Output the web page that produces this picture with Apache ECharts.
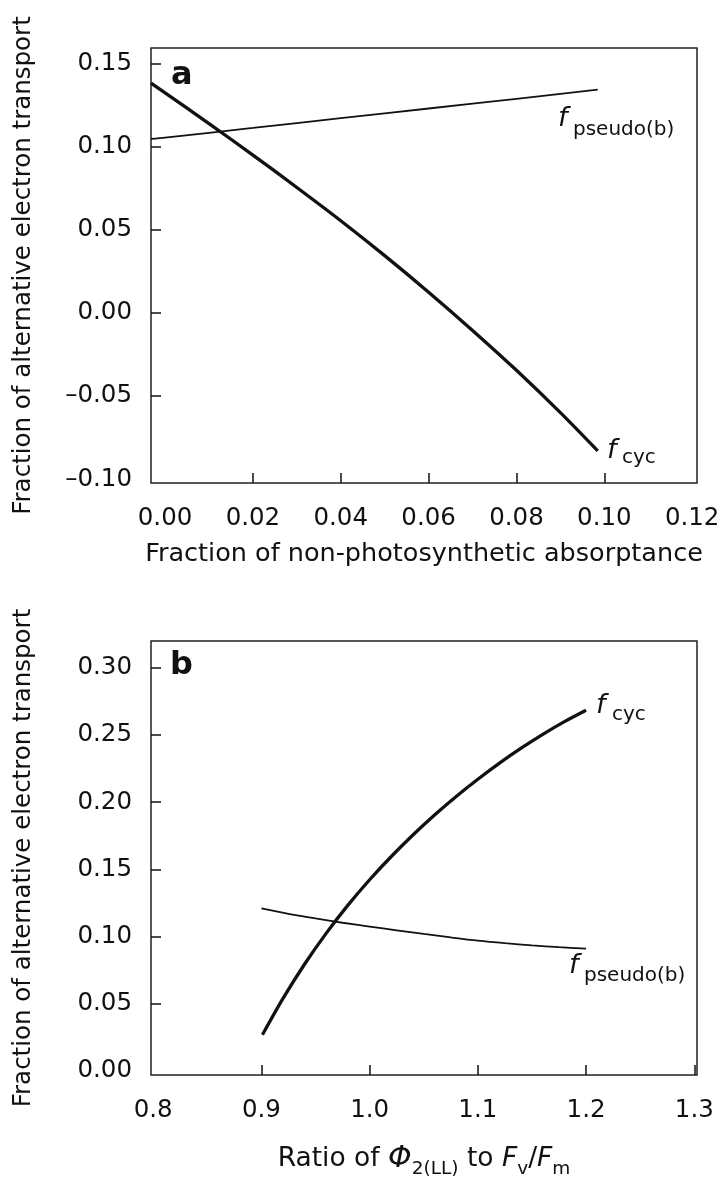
<!DOCTYPE html>
<html>
<head>
<meta charset="utf-8">
<script src="https://cdn.jsdelivr.net/npm/echarts@6/dist/echarts.min.js"></script>
<style>html,body{margin:0;padding:0;background:#fff}#c{width:724px;height:1180px}</style>
</head>
<body>
<div id="c"></div>
<script>
// ---- Panel a data ----
const aCycX = [-0.0032, 0, 0.01, 0.02, 0.03, 0.04, 0.05, 0.06, 0.07, 0.08, 0.09, 0.0985];
const aCycY = [0.1383, 0.1324, 0.1139, 0.0950, 0.0755, 0.0555, 0.0345, 0.0125, -0.0105, -0.0345, -0.0600, -0.0830];
const aPseudoX = [-0.0032, 0, 0.02, 0.04, 0.06, 0.08, 0.0985];
const aPseudoY = [0.1047, 0.1055, 0.1113, 0.1172, 0.1230, 0.1288, 0.1343];
const aXTickLabels = [0, 0.02, 0.04, 0.06, 0.08, 0.10, 0.12];
const aXTicks = [0.02, 0.04, 0.06, 0.08, 0.10];
const aYTickLabels = [-0.10, -0.05, 0, 0.05, 0.10, 0.15];
const aYTicks = [-0.05, 0, 0.05, 0.10, 0.15];

// ---- Panel b data ----
const bCycX = [0.901, 0.92, 0.94, 0.96, 0.98, 1.00, 1.02, 1.04, 1.06, 1.08, 1.10, 1.12, 1.14, 1.16, 1.18, 1.20];
const bCycY = [0.027, 0.0540, 0.0796, 0.1026, 0.1234, 0.1423, 0.1596, 0.1756, 0.1905, 0.2043, 0.2171, 0.2291, 0.2402, 0.2505, 0.2600, 0.2685];
const bPseudoX = [0.90, 0.925, 0.95, 0.975, 1.00, 1.025, 1.05, 1.075, 1.10, 1.125, 1.15, 1.175, 1.20];
const bPseudoY = [0.121, 0.117, 0.1135, 0.1103, 0.1075, 0.1047, 0.102, 0.0994, 0.097, 0.0951, 0.0935, 0.0921, 0.091];
const bXTickLabels = [0.8, 0.9, 1.0, 1.1, 1.2, 1.3];
const bXTicks = [0.9, 1.0, 1.1, 1.2, 1.3];
const bYTickLabels = [0, 0.05, 0.10, 0.15, 0.20, 0.25, 0.30];
const bYTicks = [0.05, 0.10, 0.15, 0.20, 0.25, 0.30];

const FONT = '"DejaVu Sans", "Liberation Sans", Arial, sans-serif';
const INK = '#111';
const pairs = (xs, ys) => xs.map((x, i) => [x, ys[i]]);
const fmt = d => v => (v < 0 ? '\u2013' : '') + Math.abs(v).toFixed(d);

function xAxis(gi, min, max, labels, ticks, dec, name, nameGap, rich) {
  return {
    type: 'value', gridIndex: gi, min: min, max: max,
    axisLine: { show: false, onZero: false },
    splitLine: { show: false },
    axisTick: { show: true, inside: true, length: 10, customValues: ticks, lineStyle: { color: INK, width: 1.5 } },
    axisLabel: { customValues: labels, formatter: fmt(dec), fontSize: 24.5, fontFamily: FONT, color: INK, margin: 23 },
    name: name, nameLocation: 'middle', nameGap: nameGap,
    nameTextStyle: rich ? { rich: rich } : { fontSize: 25.5, fontFamily: FONT, color: INK }
  };
}
function yAxis(gi, min, max, labels, ticks, dec) {
  return {
    type: 'value', gridIndex: gi, min: min, max: max,
    axisLine: { show: false, onZero: false },
    splitLine: { show: false },
    axisTick: { show: true, inside: true, length: 10, customValues: ticks, lineStyle: { color: INK, width: 1.5 } },
    axisLabel: { customValues: labels, formatter: fmt(dec), fontSize: 24.5, fontFamily: FONT, color: INK, margin: 19 },
    name: 'Fraction of alternative electron transport', nameLocation: 'middle', nameGap: 115, nameRotate: 90,
    nameTextStyle: { fontSize: 24.5, fontFamily: FONT, color: INK }
  };
}

const richB = {
  n: { fontSize: 26.5, fontFamily: FONT, color: INK, lineHeight: 40, verticalAlign: 'middle' },
  i: { fontSize: 26.5, fontFamily: FONT, color: INK, fontStyle: 'italic', lineHeight: 40, verticalAlign: 'middle' },
  p: { fontSize: 30, fontFamily: FONT, color: INK, fontStyle: 'italic', lineHeight: 40, verticalAlign: 'middle' },
  s: { fontSize: 18.5, fontFamily: FONT, color: INK, lineHeight: 20, verticalAlign: 'bottom' }
};

function txt(x, y, text, size, style, weight) {
  return { type: 'text', x: x, y: y, silent: true, z: 100,
    style: { text: text, fontSize: size, fontFamily: FONT, fontStyle: style || 'normal', fontWeight: weight || 'normal',
             fill: INK, align: 'left', verticalAlign: 'middle' } };
}

const chart = echarts.init(document.getElementById('c'), null, { renderer: 'canvas' });
chart.setOption({
  animation: false,
  backgroundColor: '#fff',
  grid: [
    { left: 151, top: 48, width: 546, height: 435, show: true, borderColor: '#222', borderWidth: 1.5, backgroundColor: 'transparent' },
    { left: 151, top: 641, width: 546, height: 436, show: true, borderColor: '#222', borderWidth: 1.5, backgroundColor: 'transparent' }
  ],
  xAxis: [
    xAxis(0, -0.0032, 0.1211, aXTickLabels, aXTicks, 2, 'Fraction of non-photosynthetic absorptance', 58),
    xAxis(1, 0.798, 1.3025, bXTickLabels, bXTicks, 1, '{n|Ratio of }{p|\u03A6}{s|2(LL)}{n| to }{i|F}{s|v}{n|/}{i|F}{s|m}', 64, richB)
  ],
  yAxis: [
    yAxis(0, -0.1023, 0.1594, aYTickLabels, aYTicks, 2),
    yAxis(1, -0.003, 0.320, bYTickLabels, bYTicks, 2)
  ],
  series: [
    { type: 'line', xAxisIndex: 0, yAxisIndex: 0, data: pairs(aCycX, aCycY), showSymbol: false, smooth: 0.3,
      lineStyle: { color: INK, width: 3.3 } },
    { type: 'line', xAxisIndex: 0, yAxisIndex: 0, data: pairs(aPseudoX, aPseudoY), showSymbol: false, smooth: 0.3,
      lineStyle: { color: INK, width: 1.8 } },
    { type: 'line', xAxisIndex: 1, yAxisIndex: 1, data: pairs(bCycX, bCycY), showSymbol: false, smooth: 0.3,
      lineStyle: { color: INK, width: 3.3 } },
    { type: 'line', xAxisIndex: 1, yAxisIndex: 1, data: pairs(bPseudoX, bPseudoY), showSymbol: false, smooth: 0.3,
      lineStyle: { color: INK, width: 1.8 } }
  ],
  graphic: [
    txt(171, 76, 'a', 32, 'normal', 'bold'),
    txt(170, 666, 'b', 32, 'normal', 'bold'),
    txt(558, 119, 'f', 27, 'italic'),
    txt(573, 130, 'pseudo(b)', 20),
    txt(607, 451, 'f', 27, 'italic'),
    txt(622, 458, 'cyc', 20),
    txt(596, 706, 'f', 27, 'italic'),
    txt(612, 715, 'cyc', 20),
    txt(569, 966, 'f', 27, 'italic'),
    txt(584, 976, 'pseudo(b)', 20)
  ]
});
</script>
</body>
</html>
